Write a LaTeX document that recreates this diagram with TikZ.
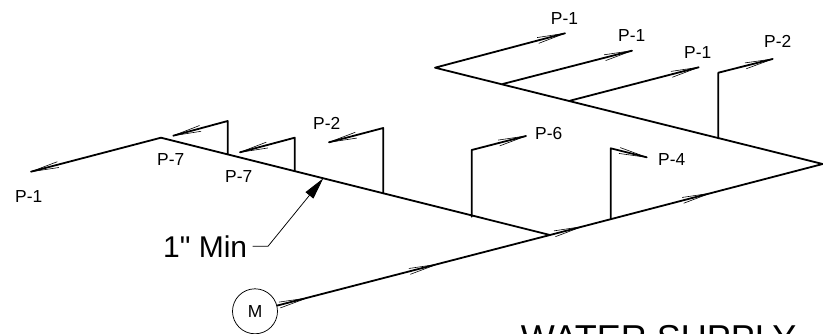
\documentclass[tikz,border=0pt]{standalone}
\usepackage{fontspec}
\setmainfont{Liberation Sans}
\newfontfamily\straightfont{Liberation Sans}
\usetikzlibrary{calc,arrows.meta}
\tikzset{
  pipe/.style={line width=1.8pt,line cap=round,line join=round},
  fine/.style={line width=0.6pt},
  leaderline/.style={line width=0.75pt},
  tag/.style={inner sep=0pt,anchor=base west,font=\fontsize{17.4}{20}\selectfont},
  bigtag/.style={inner sep=0pt,anchor=base west,font=\straightfont\fontsize{30}{34}\selectfont},
  titletag/.style={inner sep=0pt,anchor=base east,font=\fontsize{36}{40}\selectfont},
  meter/.style={circle,draw,line width=0.75pt,minimum size=45pt,inner sep=0pt,font=\fontsize{17.4}{20}\selectfont}
}
\newcommand{\flowmark}[2]{%
  \coordinate (fmt) at ($(#1)!28pt!(#2)$);
  \draw[fine] (#1) -- ($(fmt)!3pt!90:(#1)$);
  \draw[fine] (#1) -- ($(fmt)!3pt!-90:(#1)$);
}
\begin{document}
\begin{tikzpicture}[x=1pt,y=-1pt]
\useasboundingbox (0,0) rectangle (823,334);
\clip (0,0) rectangle (823,334);
% main junctions
\coordinate (e1) at (31,171.7);
\coordinate (peak) at (161,137.7);
\coordinate (j) at (550,235);
\coordinate (far) at (822.7,164);
\coordinate (back) at (435,67.7);
% lower-left branches
\coordinate (b1) at (227.7,154.3); \coordinate (t1) at (227.7,121); \coordinate (e2) at (173.3,135.7);
\coordinate (b2) at (294.7,171);   \coordinate (t2) at (294.7,137.7); \coordinate (e3) at (240,152.3);
\coordinate (b3) at (383.3,193.3); \coordinate (t3) at (383.3,128); \coordinate (e4) at (329,142.3);
\coordinate (b4) at (471.7,216.7); \coordinate (t4) at (471.7,150); \coordinate (e5) at (526,136);
\coordinate (b5) at (610.7,219.3); \coordinate (t5) at (610.7,148.3); \coordinate (e6) at (646.7,157.3);
% upper branches
\coordinate (e7) at (565,33.3);
\coordinate (b8) at (502.7,84); \coordinate (e8) at (632,50.7);
\coordinate (b9) at (570,100.7); \coordinate (e9) at (698.7,67.3);
\coordinate (b10) at (718.3,138.3); \coordinate (t10) at (718.3,72.7); \coordinate (e10) at (772.7,59);
% meter
\node[meter] (m) at (255,311.3) {M};
% pipes
\draw[pipe] (e1) -- (peak) -- (j);
\draw[pipe] (m) -- (j) -- (far) -- (back) -- (e7);
\draw[pipe] (b1) -- (t1) -- (e2);
\draw[pipe] (b2) -- (t2) -- (e3);
\draw[pipe] (b3) -- (t3) -- (e4);
\draw[pipe] (b4) -- (t4) -- (e5);
\draw[pipe] (b5) -- (t5) -- (e6);
\draw[pipe] (b8) -- (e8);
\draw[pipe] (b9) -- (e9);
\draw[pipe] (b10) -- (t10) -- (e10);
% flow marks
\flowmark{e1}{peak}
\flowmark{e2}{t1}
\flowmark{e3}{t2}
\flowmark{e4}{t3}
\flowmark{e5}{t4}
\flowmark{e6}{t5}
\flowmark{e7}{back}
\flowmark{e8}{b8}
\flowmark{e9}{b9}
\flowmark{e10}{t10}
\coordinate (f1) at (306.7,298.1);
\coordinate (f2) at (436.7,264.4);
\coordinate (f3) at (581.7,226.7);
\coordinate (f4) at (710,193.3);
\flowmark{f1}{m}
\flowmark{f2}{m}
\flowmark{f3}{j}
\flowmark{f4}{j}
% labels
\node[tag] (l1) at (15,202.7) {P-1};
\node[tag] (l2) at (157,165.7) {P-7};
\node[tag] (l3) at (225,182.7) {P-7};
\node[tag] (l4) at (313,130) {P-2};
\node[tag] (l5) at (535,140) {P-6};
\node[tag] (l6) at (658,165.7) {P-4};
\node[tag] (l7) at (550.7,24.7) {P-1};
\node[tag] (l8) at (618,41.7) {P-1};
\node[tag] (l9) at (684,58.3) {P-1};
\node[tag] (l10) at (764,47.3) {P-2};
% leader
\node[bigtag] (min) at (163,257.7) {1" Min};
\coordinate (elbow) at (268,246.3);
\coordinate (tip) at (323.3,178.3);
\coordinate (lstart) at (252.7,246.3);
\draw[leaderline,-{Triangle[length=22pt,width=10pt]}] (lstart) -- (elbow) -- (tip);
% title
\node[titletag] (title) at (796.5,350) {WATER SUPPLY};
\end{tikzpicture}
\end{document}
